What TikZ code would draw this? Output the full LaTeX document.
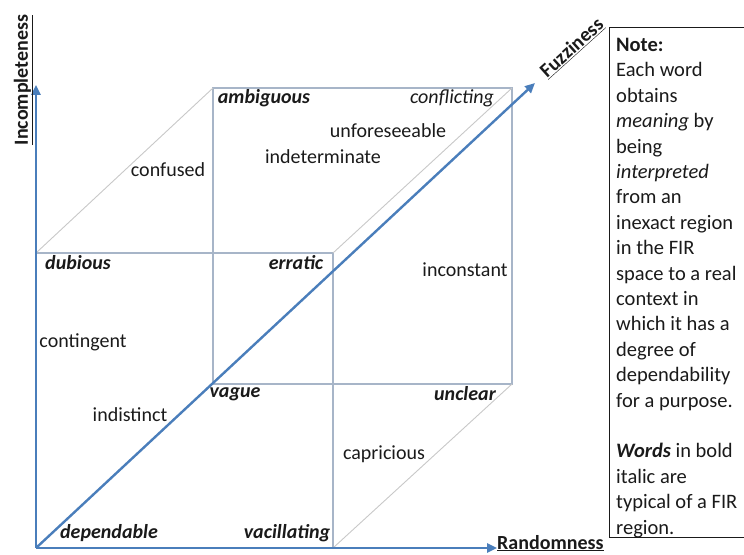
\documentclass[tikz,border=0pt]{standalone}
\usepackage{fontspec}
\setmainfont{Carlito}
\usepackage{tikz}
\usetikzlibrary{arrows.meta}
\definecolor{axisblue}{HTML}{4A7EBB}
\definecolor{facegray}{HTML}{A7B5C8}
\definecolor{edgegray}{HTML}{C8C8C8}
\definecolor{inkblack}{HTML}{1A1A1A}
\tikzset{
    axis-arrow/.style = {draw=axisblue, line width=2.4pt, -{Triangle[length=10pt, width=9pt]}},
    face-line/.style = {draw=facegray, line width=1.1pt},
    edge-line/.style = {draw=edgegray, line width=0.9pt},
    plain-word/.style = {text=inkblack, font=\fontsize{20}{24}\selectfont, inner sep=1pt},
    key-word/.style = {plain-word, font=\fontsize{20}{24}\selectfont\bfseries\itshape},
    axis-label/.style = {text=inkblack, font=\fontsize{20}{24}\selectfont\bfseries, inner sep=0pt},
    note-text/.style = {text=inkblack, font=\fontsize{20.5}{25.4}\selectfont, align=left, inner sep=0pt},
}
\begin{document}
\begin{tikzpicture}[x=1pt, y=1pt]
\useasboundingbox (0,0) rectangle (744,554);

\coordinate (origin) at (36,6);
\coordinate (front-tl) at (36,301);
\coordinate (front-tr) at (333,301);
\coordinate (front-br) at (333,6);
\coordinate (back-tl) at (213,466);
\coordinate (back-tr) at (512,466);
\coordinate (back-bl) at (213,170);
\coordinate (back-br) at (512,170);
\coordinate (inc-end) at (36,469);
\coordinate (rand-end) at (497,6);
\coordinate (fuzz-end) at (535,471);

\draw[face-line] (back-tl) rectangle (back-br);
\draw[face-line] (front-tl) -- (front-tr) -- (front-br);
\draw[edge-line] (front-tl) -- (back-tl);
\draw[edge-line] (front-tr) -- (back-tr);
\draw[edge-line] (front-br) -- (back-br);

\draw[axis-arrow] (origin) -- (inc-end);
\draw[axis-arrow] (origin) -- (rand-end);
\draw[axis-arrow] (origin) -- (fuzz-end);

\node[axis-label, rotate=90, anchor=base] (incompleteness) at (28,474) {\underline{Incompleteness}};
\node[axis-label, anchor=base west] (randomness) at (497,5) {\underline{Randomness}};
\node[axis-label, rotate=42, anchor=center] (fuzziness) at (572,506) {\underline{Fuzziness}};

\node[key-word] (ambiguous) at (264,456) {ambiguous};
\node[plain-word, font=\fontsize{20}{24}\selectfont\itshape] (conflicting) at (452,456) {conflicting};
\node[plain-word] (unforeseeable) at (388,423) {unforeseeable};
\node[plain-word] (indeterminate) at (323,397) {indeterminate};
\node[plain-word] (confused) at (168,384) {confused};
\node[key-word] (dubious) at (78,291) {dubious};
\node[key-word] (erratic) at (296,291) {erratic};
\node[plain-word] (inconstant) at (465,284) {inconstant};
\node[plain-word] (contingent) at (83,212) {contingent};
\node[key-word] (vague) at (235,160) {vague};
\node[key-word] (unclear) at (465,160) {unclear};
\node[plain-word] (indistinct) at (130,139) {indistinct};
\node[plain-word] (capricious) at (384,100) {capricious};
\node[key-word] (dependable) at (109,21) {dependable};
\node[key-word] (vacillating) at (287,21) {vacillating};

\draw[draw=inkblack, line width=1pt] (609.5,526) rectangle (752,16);
\node[note-text, anchor=north west] (note) at (616,516) {\textbf{Note:}\\
Each word\\
obtains\\
\textit{meaning} by\\
being\\
\textit{interpreted}\\
from an\\
inexact region\\
in the FIR\\
space to a real\\
context in\\
which it has a\\
degree of\\
dependability\\
for a purpose.\\[25.4pt]
\textbf{\textit{Words}} in bold\\
italic are\\
typical of a FIR\\
region.};
\end{tikzpicture}
\end{document}
